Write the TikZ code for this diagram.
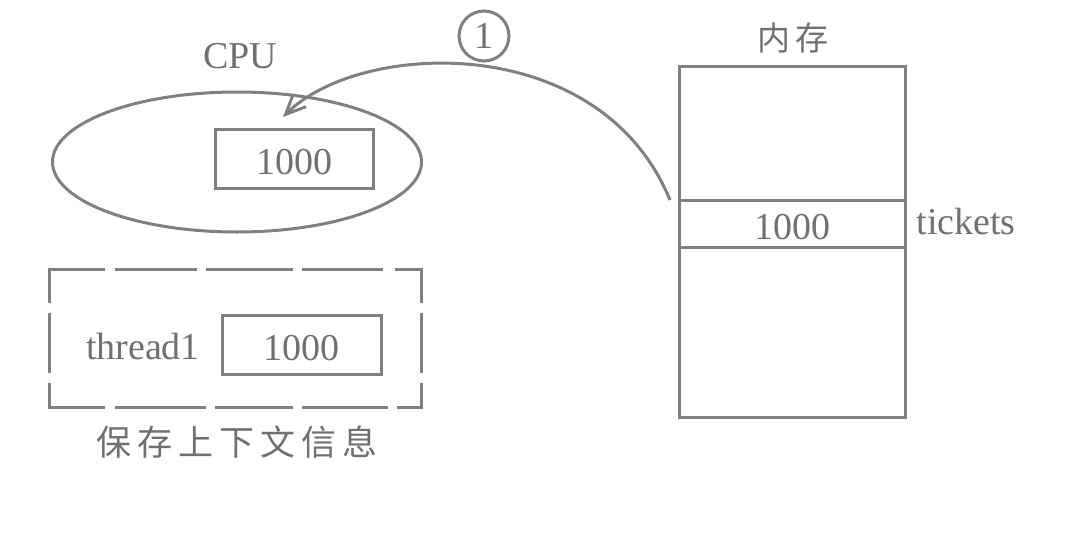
\documentclass[tikz,border=0pt]{standalone}
\usepackage{fontspec}
\setmainfont{Liberation Serif}
\newfontfamily\cjk{Noto Sans CJK SC}
\usetikzlibrary{shapes.geometric,arrows.meta}
\definecolor{ln}{RGB}{128,128,128}
\definecolor{tx}{RGB}{112,112,112}
\tikzset{
  every node/.style={text=tx,font=\fontsize{38}{42}\selectfont},
  box/.style={draw=ln,line width=3pt,inner sep=0pt},
  numbox/.style={box,text height=31pt,text depth=0pt},
  dashseg/.style={draw=ln,line width=3pt,line join=miter},
  cjkt/.style={font=\fontsize{35}{38}\selectfont\cjk},
  conn/.style={draw=ln,line width=3pt,-{Straight Barb[length=20pt,width=18pt,line width=3pt]}}
}
\newcommand{\cjksp}{\hspace{6pt}}
\begin{document}
\begin{tikzpicture}[x=1pt,y=-1pt]
\useasboundingbox (0,0) rectangle (1078,533);
% CPU
\node[box,ellipse,minimum width=369pt,minimum height=140pt] (cpu) at (237,162) {};
\node (cpulbl) at (240,56) {CPU};
\node[numbox,minimum width=158pt,minimum height=59pt] (reg) at (294,158.5) {1000};
% context save (dashed frame drawn as segments)
\node[minimum width=372pt,minimum height=138pt,inner sep=0pt] (ctx) at (235,338) {};
\foreach \a/\b in {115/197,206/293,302/383}{\draw[dashseg] (\a,269) -- (\b,269);}
\foreach \a/\b in {115/206,215/293,302/388}{\draw[dashseg] (\a,407) -- (\b,407);}
\draw[dashseg] (49,303) -- (49,269) -- (105,269);
\draw[dashseg] (395,269) -- (421,269) -- (421,303);
\draw[dashseg] (421,313) -- (421,373);
\draw[dashseg] (421,383) -- (421,407) -- (397,407);
\draw[dashseg] (105,407) -- (49,407) -- (49,383);
\draw[dashseg] (49,373) -- (49,313);
\node (thr) at (143,346) {thread1};
\node[numbox,minimum width=159pt,minimum height=59pt] (sav) at (301.5,344.5) {1000};
\node[cjkt] (ctxlbl) at (237,442) {保\cjksp 存\cjksp 上\cjksp 下\cjksp 文\cjksp 信\cjksp 息};
% memory
\node[box,minimum width=226pt,minimum height=134pt] (mtop) at (792,133) {};
\node[numbox,minimum width=226pt,minimum height=47pt] (mcell) at (792,223.5) {1000};
\node[box,minimum width=226pt,minimum height=170pt] (mbot) at (792,332) {};
\node[cjkt,font=\fontsize{33}{36}\selectfont\cjk] (memlbl) at (793,38) {内\cjksp 存};
\node[anchor=west] (tk) at (913,221) {tickets};
% step marker
\node[draw=ln,line width=3pt,circle,minimum size=50pt,inner sep=0pt] (one) at (484,36) {1};
% arrow
\coordinate (src) at (670,200);
\coordinate (dst) at (283,117);
\draw[conn] (src) .. controls (600,30) and (360,40) .. (dst);
\end{tikzpicture}
\end{document}
